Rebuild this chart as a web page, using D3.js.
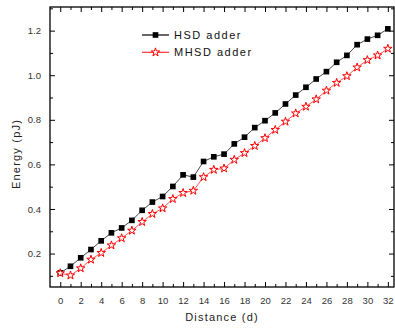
<!DOCTYPE html>
<html>
<head>
<meta charset="utf-8">
<script src="https://cdn.jsdelivr.net/npm/d3@7"></script>
<style>
  body { margin: 0; background: #fff; }
  svg { display: block; font-family: "Liberation Sans", Arial, sans-serif; }
  .tick text { fill: #333; font-size: 9.5px; }
  .label { font-size: 11px; letter-spacing: 1.2px; fill: #222; }
  .legend text { font-size: 11px; letter-spacing: 1.5px; fill: #111; }
</style>
</head>
<body>
<div id="chart"></div>
<script>
// distance (d)
const distance = d3.range(0, 33);
// energy (pJ)
const hsdEnergy = [0.113, 0.143, 0.181, 0.218, 0.257, 0.293, 0.315, 0.349, 0.394, 0.431,
  0.456, 0.501, 0.553, 0.543, 0.613, 0.634, 0.646, 0.692, 0.722, 0.765,
  0.796, 0.831, 0.871, 0.911, 0.946, 0.983, 1.016, 1.058, 1.089, 1.137,
  1.162, 1.179, 1.208];
const mhsdEnergy = [0.112, 0.102, 0.134, 0.173, 0.203, 0.237, 0.269, 0.303, 0.342, 0.378,
  0.403, 0.445, 0.472, 0.482, 0.543, 0.576, 0.582, 0.621, 0.651, 0.683,
  0.718, 0.755, 0.792, 0.829, 0.859, 0.892, 0.931, 0.966, 0.996, 1.035,
  1.068, 1.089, 1.119];
const seriesNames = ['HSD adder', 'MHSD adder'];
const xTicks = d3.range(0, 33, 2);
const yTicks = [0.2, 0.4, 0.6, 0.8, 1.0, 1.2];
const texts = ['Distance (d)', 'Energy (pJ)'];

const W = 395, H = 328;
const margin = {top: 7, right: 1, bottom: 41, left: 50};
const width = W - margin.left - margin.right;
const height = H - margin.top - margin.bottom;

const svg = d3.select('#chart').append('svg')
    .attr('width', W)
    .attr('height', H)
  .append('g')
    .attr('transform', 'translate(' + margin.left + ',' + margin.top + ')');

const x = d3.scaleLinear().domain([-1, 32.6]).range([0, width]);
const y = d3.scaleLinear().domain([0.05, 1.306]).range([height, 0]);

const minorX = d3.range(1, 33, 2);
const minorY = [0.1, 0.3, 0.5, 0.7, 0.9, 1.1, 1.3];

// major axes, ticks pointing inward
function axisStyle(g) {
  g.select('.domain').remove();
  g.selectAll('.tick line').attr('stroke', '#000');
}
svg.append('g')
    .attr('transform', 'translate(0,' + height + ')')
    .call(d3.axisBottom(x).tickValues(xTicks).tickSize(-5).tickPadding(8).tickFormat(d3.format('d')))
    .call(axisStyle)
    .selectAll('text').attr('dy', '0.95em');
svg.append('g')
    .call(d3.axisTop(x).tickValues(xTicks).tickSize(-5).tickFormat(''))
    .call(axisStyle);
svg.append('g')
    .call(d3.axisLeft(y).tickValues(yTicks).tickSize(-5).tickPadding(9).tickFormat(d3.format('.1f')))
    .call(axisStyle);
svg.append('g')
    .attr('transform', 'translate(' + width + ',0)')
    .call(d3.axisRight(y).tickValues(yTicks).tickSize(-5).tickFormat(''))
    .call(axisStyle);

// minor ticks
svg.append('g')
    .attr('transform', 'translate(0,' + height + ')')
    .call(d3.axisBottom(x).tickValues(minorX).tickSize(-3).tickFormat(''))
    .call(axisStyle);
svg.append('g')
    .call(d3.axisTop(x).tickValues(minorX).tickSize(-3).tickFormat(''))
    .call(axisStyle);
svg.append('g')
    .call(d3.axisLeft(y).tickValues(minorY.filter(v => y(v) > 1)).tickSize(-3).tickFormat(''))
    .call(axisStyle);
svg.append('g')
    .attr('transform', 'translate(' + width + ',0)')
    .call(d3.axisRight(y).tickValues(minorY.filter(v => y(v) > 1)).tickSize(-3).tickFormat(''))
    .call(axisStyle);

// frame
svg.append('rect')
    .attr('width', width)
    .attr('height', height)
    .attr('fill', 'none')
    .attr('stroke', '#000')
    .attr('stroke-width', 1.3);

const line = d3.line()
    .x((d, i) => x(distance[i]))
    .y(d => y(d));

const star = d3.symbol().type(d3.symbolStar).size(22);
const square = d3.symbol().type(d3.symbolSquare).size(32);

// HSD
svg.append('path')
    .datum(hsdEnergy)
    .attr('fill', 'none')
    .attr('stroke', '#333')
    .attr('stroke-width', 0.9)
    .attr('d', line);
svg.selectAll('.sq')
    .data(hsdEnergy)
  .enter().append('path')
    .attr('class', 'sq')
    .attr('d', square)
    .attr('fill', '#000')
    .attr('transform', (d, i) => 'translate(' + x(distance[i]) + ',' + y(d) + ')');

// MHSD
svg.append('path')
    .datum(mhsdEnergy)
    .attr('fill', 'none')
    .attr('stroke', '#f44')
    .attr('stroke-width', 0.9)
    .attr('d', line);
svg.selectAll('.st')
    .data(mhsdEnergy)
  .enter().append('path')
    .attr('class', 'st')
    .attr('d', star)
    .attr('fill', '#fff')
    .attr('stroke', '#f00')
    .attr('stroke-width', 1)
    .attr('transform', (d, i) => 'translate(' + x(distance[i]) + ',' + y(d) + ')');

// legend
const legend = svg.append('g').attr('class', 'legend');
const legendRows = [
  {name: seriesNames[0], color: '#000', sym: square, fill: '#000', stroke: 'none'},
  {name: seriesNames[1], color: '#f33', sym: star, fill: '#fff', stroke: '#f00'}
];
legendRows.forEach((r, i) => {
  const ly = 28 + i * 17.3;
  legend.append('line')
      .attr('x1', 92).attr('x2', 119)
      .attr('y1', ly).attr('y2', ly)
      .attr('stroke', r.color).attr('stroke-width', 1.2);
  legend.append('path')
      .attr('d', r.sym)
      .attr('fill', r.fill)
      .attr('stroke', r.stroke)
      .attr('transform', 'translate(105.5,' + ly + ')');
  legend.append('text')
      .attr('x', 124)
      .attr('y', ly)
      .attr('dy', '0.36em')
      .text(r.name);
});

// axis labels
svg.append('text')
    .attr('class', 'label')
    .attr('x', width / 2)
    .attr('y', height + 34)
    .style('text-anchor', 'middle')
    .text(texts[0]);
svg.append('text')
    .attr('class', 'label')
    .attr('transform', 'rotate(-90)')
    .attr('x', -height / 2 - 7)
    .attr('y', -30)
    .style('text-anchor', 'middle')
    .text(texts[1]);
</script>
</body>
</html>
